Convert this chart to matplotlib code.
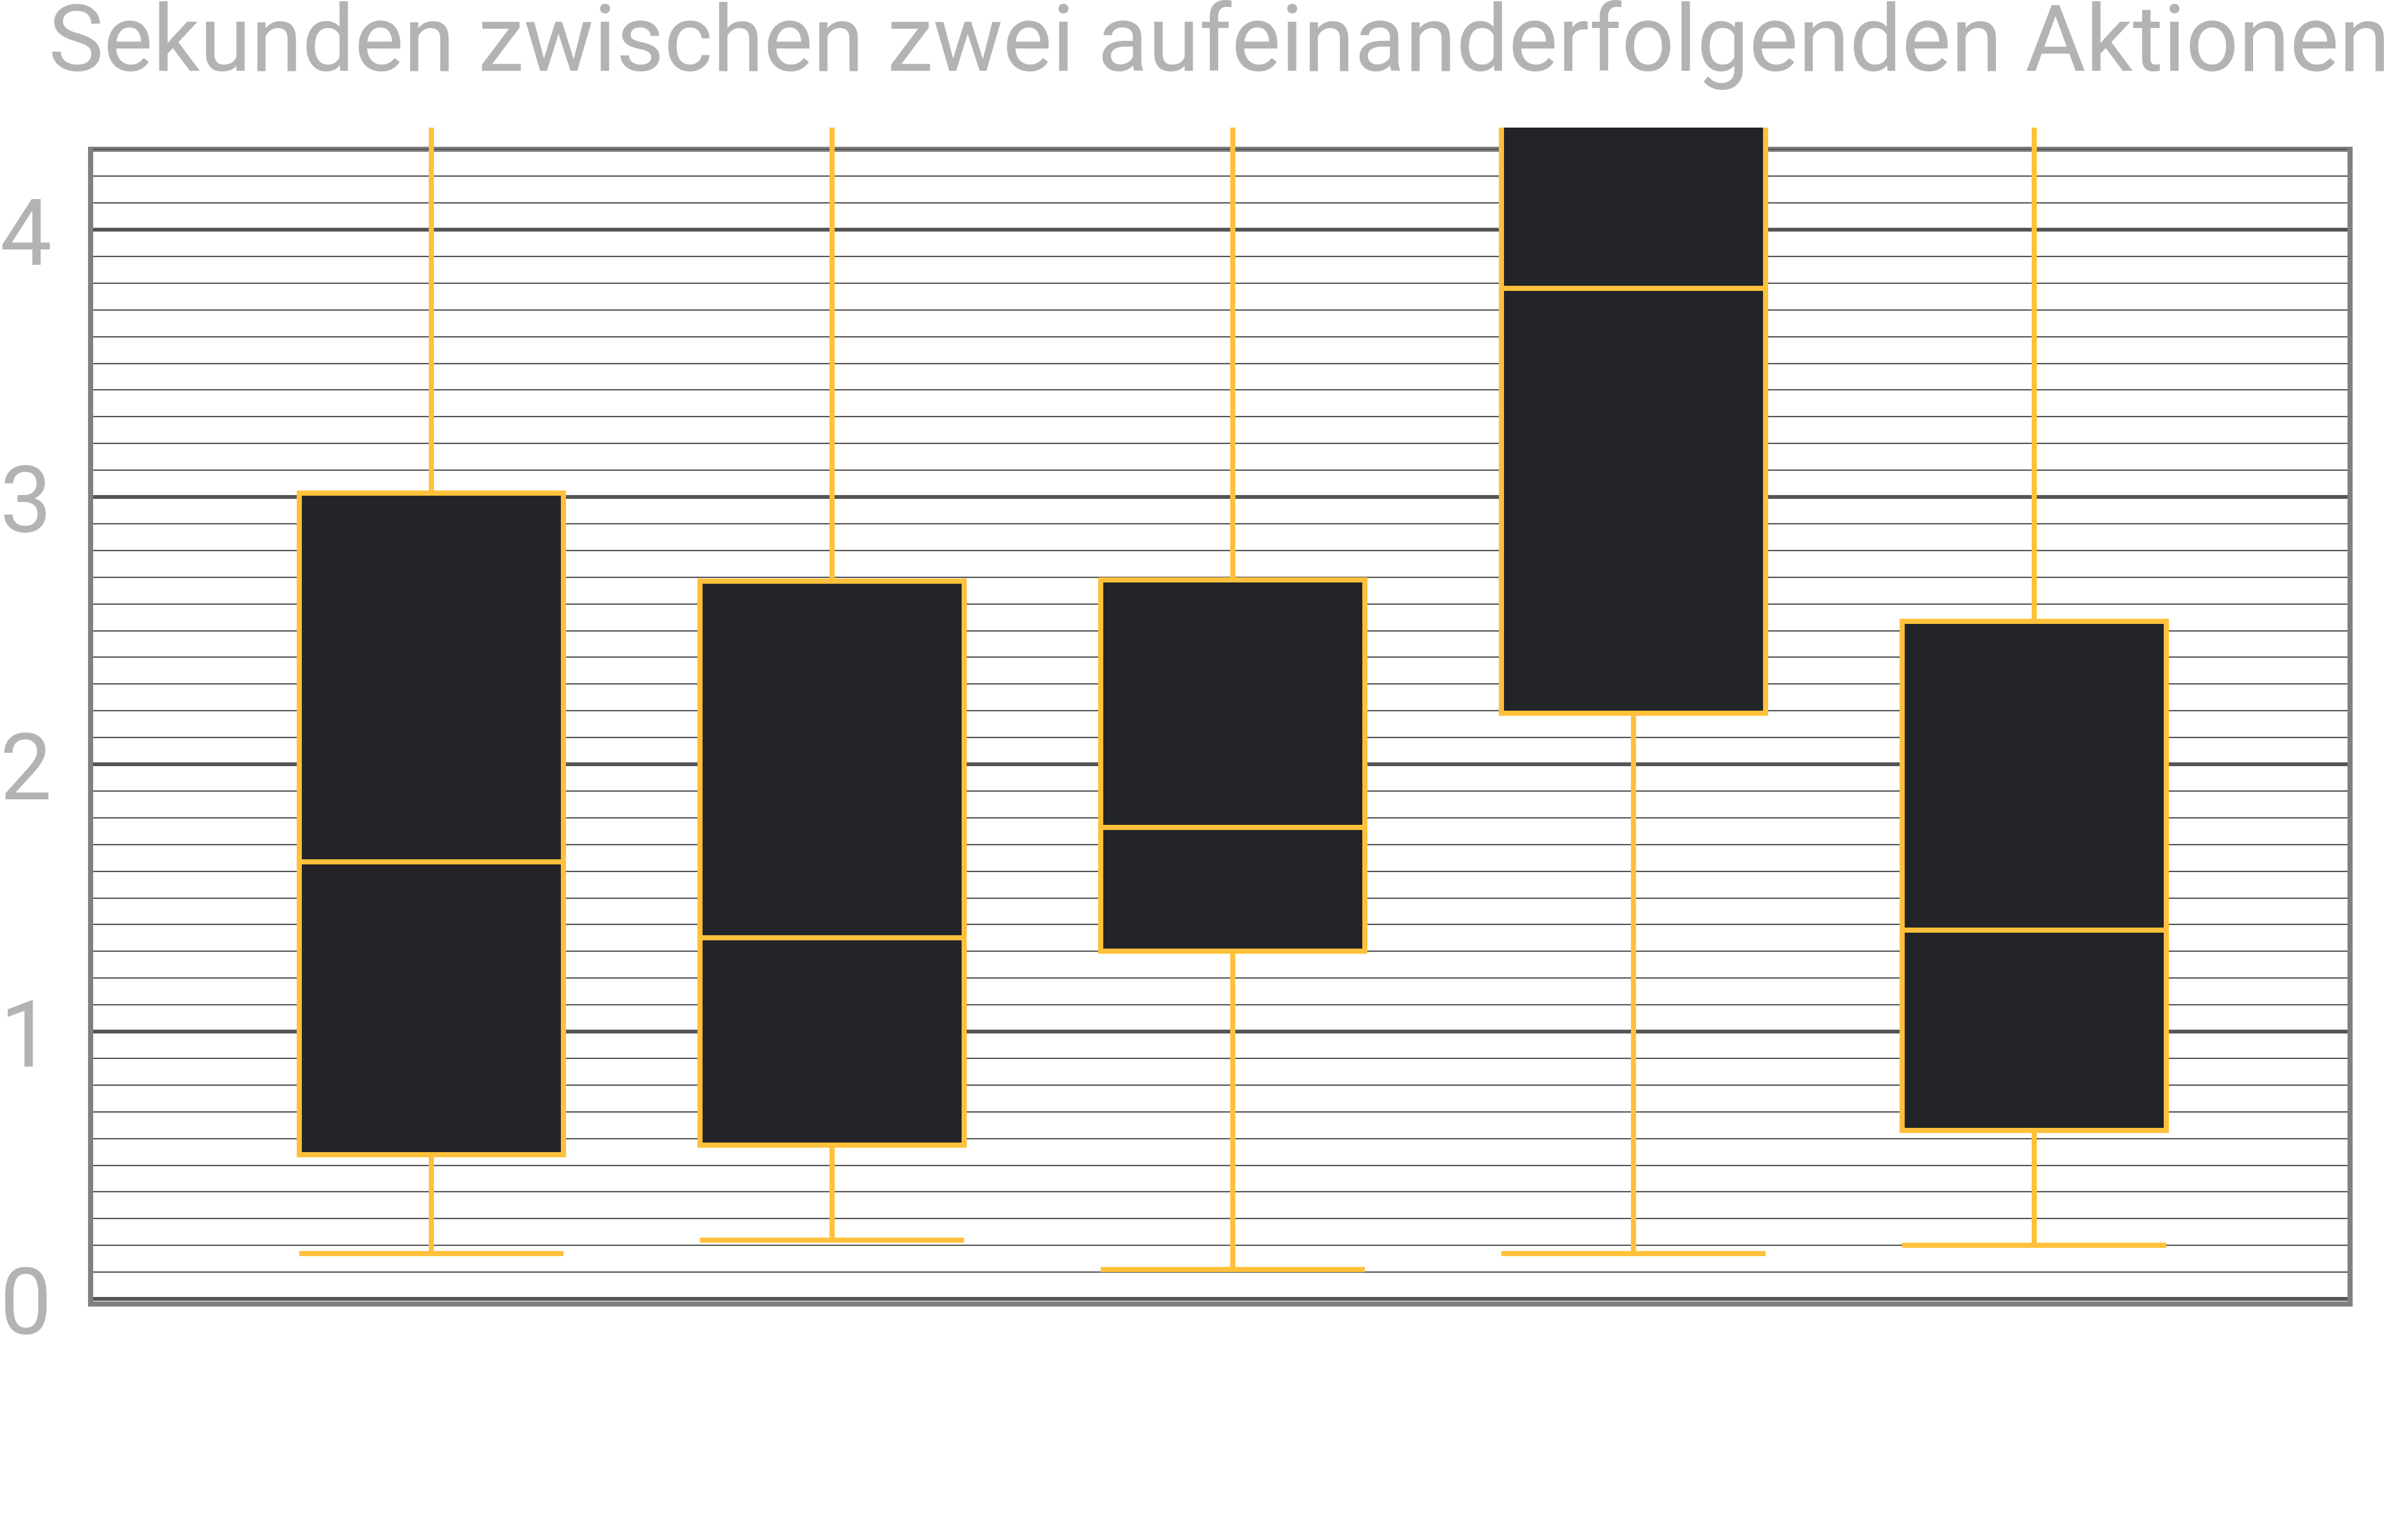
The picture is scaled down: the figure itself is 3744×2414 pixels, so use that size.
import matplotlib
matplotlib.use('Agg')
import matplotlib.pyplot as plt
from matplotlib.ticker import MultipleLocator

plt.rcParams['font.family'] = ['Roboto', 'DejaVu Sans']

# box stats (upper whiskers / box 4 top run off the chart)
positions = [1, 2, 3, 4, 5]
whislo = [0.17, 0.22, 0.11, 0.17, 0.20]
q1 = [0.54, 0.575, 1.30, 2.19, 0.63]
med = [1.635, 1.35, 1.765, 3.78, 1.38]
q3 = [3.015, 2.685, 2.69, 4.9, 2.535]
whishi = [6.5, 6.0, 6.0, 9.0, 5.8]

title = 'Sekunden zwischen zwei aufeinanderfolgenden Aktionen'
yellow = '#FFC13B'
dark = '#232427'
grey_txt = '#B3B3B3'
frame_c = '#808080'
grid_c = '#555555'

W, H = 3744, 2414
fig = plt.figure(figsize=(W / 100, H / 100), dpi=100)
ax = fig.add_axes([142 / W, 1 - 2044 / H, (3683 - 142) / W, (2044 - 200) / H])

stats = []
for i in range(len(positions)):
    stats.append({'whislo': whislo[i], 'q1': q1[i], 'med': med[i],
                  'q3': q3[i], 'whishi': whishi[i], 'fliers': []})

lw = 5.8
ax.bxp(stats, positions=positions, widths=0.66, patch_artist=True,
       showfliers=False, capwidths=0.66,
       boxprops=dict(facecolor=dark, edgecolor=yellow, linewidth=lw),
       medianprops=dict(color=yellow, linewidth=lw),
       whiskerprops=dict(color=yellow, linewidth=lw, solid_capstyle='butt'),
       capprops=dict(color=yellow, linewidth=lw, solid_capstyle='butt'))

ax.set_xlim(0.15, 5.788)
ax.set_ylim(-0.019, 4.382)

ax.yaxis.set_major_locator(MultipleLocator(1))
ax.yaxis.set_minor_locator(MultipleLocator(0.1))
ax.set_axisbelow(True)
ax.grid(which='major', axis='y', color=grid_c, linewidth=4.3)
ax.grid(which='minor', axis='y', color=grid_c, linewidth=1.5)
ax.set_xticks([])
ax.tick_params(axis='y', which='both', length=0)
ax.tick_params(axis='y', which='major', labelsize=104, labelcolor=grey_txt, pad=44)

for s in ['left', 'right', 'bottom']:
    ax.spines[s].set_color(frame_c)
    ax.spines[s].set_linewidth(5.8)
ax.spines['left'].set_bounds(-0.019, 4.3)
ax.spines['right'].set_bounds(-0.019, 4.3)
ax.spines['top'].set_visible(False)
ax.axhline(4.3, color=frame_c, linewidth=5.8, zorder=0.5)

fig.text(76 / W, 1 - 111 / H, title, fontsize=104.7, color=grey_txt,
         ha='left', va='baseline')

fig.savefig('out.png', dpi=100, facecolor='white')
